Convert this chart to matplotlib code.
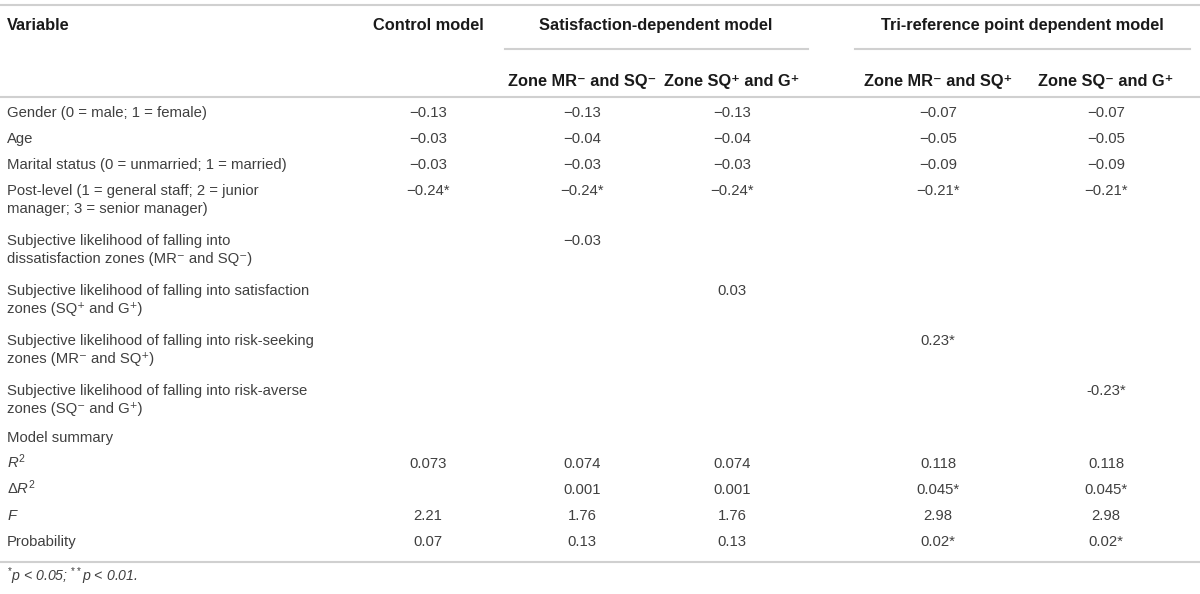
import matplotlib.pyplot as plt

plt.rcParams["font.family"] = ["Liberation Sans", "DejaVu Sans"]
plt.rcParams["mathtext.fontset"] = "custom"
plt.rcParams["mathtext.rm"] = "Liberation Sans"
plt.rcParams["mathtext.it"] = "Liberation Sans:italic"

# table content
group_headers = ["Control model", "Satisfaction-dependent model",
                 "Tri-reference point dependent model"]
sub_headers = ["Zone MR\u207b and SQ\u207b", "Zone SQ\u207a and G\u207a",
               "Zone MR\u207b and SQ\u207a", "Zone SQ\u207b and G\u207a"]

variables = [
    "Gender (0 = male; 1 = female)",
    "Age",
    "Marital status (0 = unmarried; 1 = married)",
    "Post-level (1 = general staff; 2 = junior\nmanager; 3 = senior manager)",
    "Subjective likelihood of falling into\ndissatisfaction zones (MR\u207b and SQ\u207b)",
    "Subjective likelihood of falling into satisfaction\nzones (SQ\u207a and G\u207a)",
    "Subjective likelihood of falling into risk-seeking\nzones (MR\u207b and SQ\u207a)",
    "Subjective likelihood of falling into risk-averse\nzones (SQ\u207b and G\u207a)",
    "Model summary",
    r"$R^2$",
    "\u0394" + r"$R^2$",
    r"$F$",
    "Probability",
]

control = ["\u22120.13", "\u22120.03", "\u22120.03", "\u22120.24*", "", "", "", "",
           "", "0.073", "", "2.21", "0.07"]
sat_mr_sq = ["\u22120.13", "\u22120.04", "\u22120.03", "\u22120.24*", "\u22120.03", "", "", "",
             "", "0.074", "0.001", "1.76", "0.13"]
sat_sq_g = ["\u22120.13", "\u22120.04", "\u22120.03", "\u22120.24*", "", "0.03", "", "",
            "", "0.074", "0.001", "1.76", "0.13"]
tri_mr_sq = ["\u22120.07", "\u22120.05", "\u22120.09", "\u22120.21*", "", "", "0.23*", "",
             "", "0.118", "0.045*", "2.98", "0.02*"]
tri_sq_g = ["\u22120.07", "\u22120.05", "\u22120.09", "\u22120.21*", "", "", "", "-0.23*",
            "", "0.118", "0.045*", "2.98", "0.02*"]

footnote = r"$^{*}p$ < 0.05; $^{**}p$ < 0.01."

# layout (pixel coordinates, baselines)
row_y = [117, 143, 169, 195, 245, 295, 345, 395, 442, 468, 494, 520, 546]
col_x = [428, 582, 732, 938, 1106]
group_x = [428, 656, 1022]

fig = plt.figure(figsize=(12, 5.94), dpi=100)
ax = fig.add_axes([0, 0, 1, 1])
ax.set_xlim(0, 1200)
ax.set_ylim(594, 0)
ax.axis("off")

line_col = "#d0d0d0"
text_col = "#404040"
head_col = "#1a1a1a"
fs = 10.7
hfs = 11.8

ax.plot([0, 1200], [5, 5], color=line_col, lw=1.5)
ax.plot([505, 808], [49, 49], color=line_col, lw=1.5)
ax.plot([855, 1190], [49, 49], color=line_col, lw=1.5)
ax.plot([0, 1200], [97, 97], color=line_col, lw=1.5)
ax.plot([0, 1200], [562, 562], color=line_col, lw=1.5)

ax.text(7, 30, "Variable", fontsize=hfs, fontweight="bold", color=head_col,
        va="baseline", ha="left")
for x, h in zip(group_x, group_headers):
    ax.text(x, 30, h, fontsize=hfs, fontweight="bold", color=head_col,
            va="baseline", ha="center")
for x, h in zip(col_x[1:], sub_headers):
    ax.text(x, 86, h, fontsize=hfs, fontweight="bold", color=head_col,
            va="baseline", ha="center")

for y, v in zip(row_y, variables):
    for i, part in enumerate(v.split("\n")):
        ax.text(7, y + 18 * i, part, fontsize=fs, color=text_col,
                va="baseline", ha="left")

columns = [control, sat_mr_sq, sat_sq_g, tri_mr_sq, tri_sq_g]
for x, col in zip(col_x, columns):
    for y, val in zip(row_y, col):
        if val:
            ax.text(x, y, val, fontsize=fs, color=text_col,
                    va="baseline", ha="center")

ax.text(7, 581, footnote, fontsize=fs - 0.5, color=text_col, style="italic",
        va="baseline", ha="left")

fig.savefig("out.png", dpi=100)
